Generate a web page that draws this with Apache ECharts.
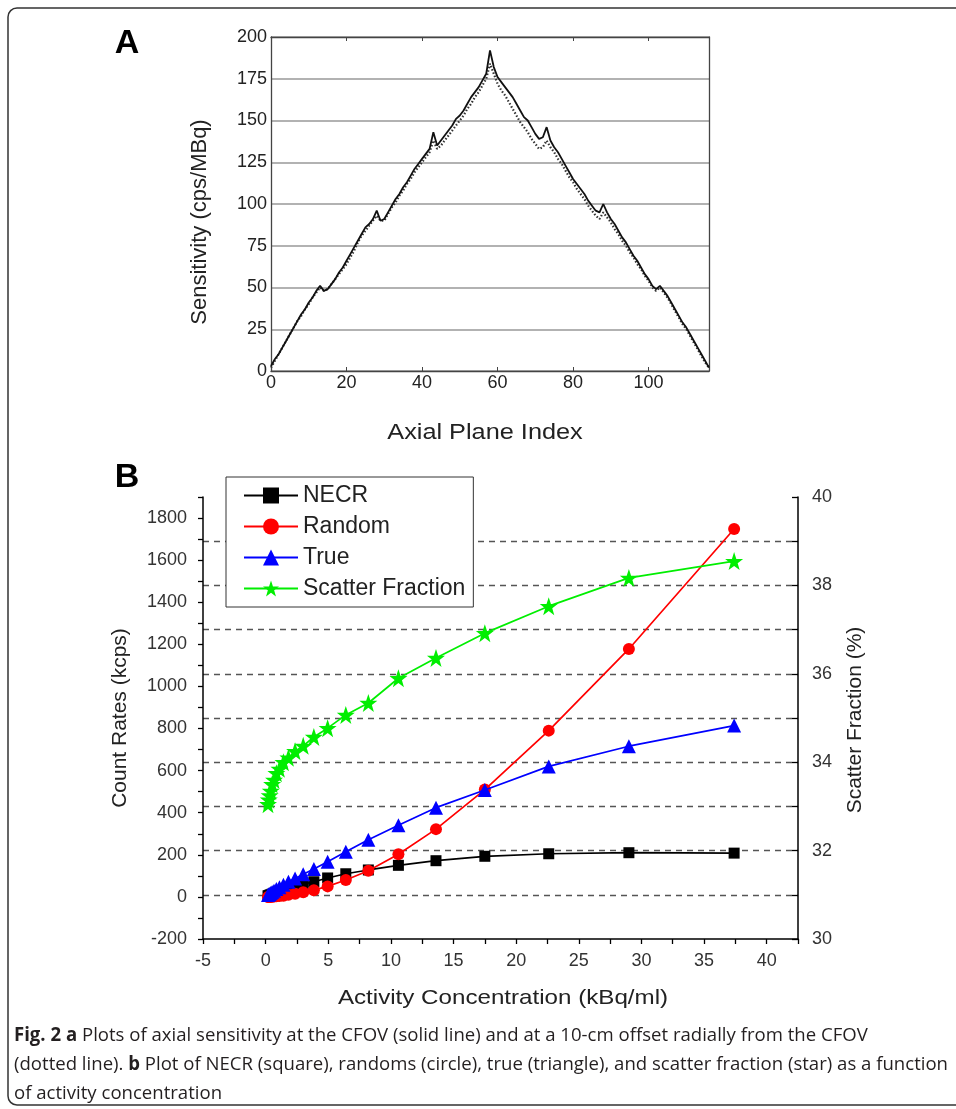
<!DOCTYPE html>
<html>
<head>
<meta charset="utf-8">
<script src="https://cdn.jsdelivr.net/npm/echarts@6/dist/echarts.min.js"></script>
<style>
html,body{margin:0;padding:0;background:#fff;}
#c{width:956px;height:1109px;}
</style>
</head>
<body>
<div id="c"></div>
<script>
// ---------- Panel A data: axial sensitivity (cps/MBq) per plane ----------
const sensitivityCFOV = [
  3,7,10,14,18,22,26,30,34,37,
  41,44,48,51,48,49,52,55,59,62,
  66,70,74,78,82,86,88,91,96,90,
  91,95,99,103,106,110,113,117,121,124,
  127,130,133,143,135,138,141,144,147,151,
  153,156,160,164,167,170,174,178,192,182,
  176,173,170,167,164,160,156,152,150,146,
  142,139,140,146,138,134,131,127,123,119,
  115,112,109,106,102,99,96,95,100,95,
  91,88,84,80,77,73,69,66,62,58,
  55,51,49,51,48,45,41,37,33,29,
  26,22,18,14,10,6,2
];
const sensitivityOffset = [
  2,6,10,14,18,22,26,30,33,37,
  40,44,47,50,48,49,52,55,58,61,
  64,68,72,77,81,84,87,90,93,90,
  90,94,98,101,105,108,112,115,119,122,
  125,128,131,138,133,135,138,141,144,147,
  150,153,157,160,164,167,171,175,184,178,
  172,168,165,161,157,153,149,146,143,139,
  136,133,134,138,134,131,127,124,120,116,
  113,109,106,103,99,96,93,91,95,92,
  89,85,82,78,75,71,68,64,61,57,
  54,50,48,50,47,44,40,36,32,28,
  25,21,17,13,9,5,2
];
const axisA_x = {min: 0, max: 116, interval: 20};
const axisA_y = {min: 0, max: 200, interval: 25};

// ---------- Panel B data ----------
const seriesNames = ['NECR', 'Random', 'True', 'Scatter Fraction'];
const concentration = [0.19,0.25,0.32,0.41,0.52,0.67,0.86,1.1,1.42,1.82,2.35,3.0,3.85,4.95,6.4,8.2,10.6,13.6,17.5,22.6,29.0,37.4];
const necr          = [5,6,8,10,13,17,22,27,34,42,50,60,72,90,110,128,150,172,193,205,210,208];
const randoms       = [0,0,0,1,1,2,3,4,6,10,15,22,32,50,80,124,203,322,510,790,1178,1748];
const trues         = [9,11,14,18,23,29,37,46,58,72,88,108,133,167,214,272,340,424,508,620,716,814];
const scatterFrac   = [33.05,33.15,33.25,33.35,33.5,33.6,33.75,33.85,34.0,34.1,34.25,34.37,34.57,34.77,35.07,35.34,35.9,36.36,36.92,37.53,38.17,38.55];
const axisB_x  = {min: -5, max: 42.5, step: 2.5, labelEvery: 5};
const axisB_yL = {min: -200, max: 1900, step: 100, labelEvery: 200};
const axisB_yR = {min: 30, max: 40, step: 1, labelEvery: 2};

// ---------- Text ----------
const captionLines = [
  [['b','Fig. 2'],['n',' '],['b','a'],['n',' Plots of axial sensitivity at the CFOV (solid line) and at a 10-cm offset radially from the CFOV']],
  [['n','(dotted line). '],['b','b'],['n',' Plot of NECR (square), randoms (circle), true (triangle), and scatter fraction (star) as a function']],
  [['n','of activity concentration']]
];

const FONT = '"Liberation Sans", Arial, Helvetica, sans-serif';
const starPath = 'path://M50,2 L61.5,36 L97,36 L68.5,57.5 L79,92 L50,71 L21,92 L31.5,57.5 L3,36 L38.5,36 Z';

function isMult(v, m) { return Math.abs(v / m - Math.round(v / m)) < 1e-6; }

const planes = sensitivityCFOV.map((_, i) => i);

// caption scale to mimic condensed font
const CAP_FONT = '"Open Sans", "Noto Sans", sans-serif';
const CAP_SIZE = 19;
const mctx = document.createElement('canvas').getContext('2d');
function lineWidth(parts) {
  let w = 0;
  parts.forEach(p => {
    mctx.font = (p[0] === 'b' ? 'bold ' : '') + CAP_SIZE + 'px ' + CAP_FONT;
    w += mctx.measureText(p[1]).width;
  });
  return w;
}
const capScale = 934 / lineWidth(captionLines[1]);
const captionGraphics = captionLines.map((parts, i) => ({
  type: 'text',
  x: 14, y: 1036 + i * 29,
  scaleX: capScale,
  style: {
    text: parts.map(p => p[0] === 'b' ? '{b|' + p[1] + '}' : '{n|' + p[1] + '}').join(''),
    rich: {
      b: {fontFamily: CAP_FONT, fontSize: CAP_SIZE, fontWeight: 'bold', fill: '#231f20'},
      n: {fontFamily: CAP_FONT, fontSize: CAP_SIZE, fill: '#231f20'}
    },
    align: 'left', verticalAlign: 'middle'
  },
  z: 10
}));

function title(text, x, y, rot, size, sx) {
  return {
    type: 'text', x: x, y: y, rotation: rot || 0, scaleX: sx || 1,
    style: {text: text, font: (size || 21) + 'px ' + FONT, fill: '#222', align: 'center', verticalAlign: 'middle'},
    z: 10
  };
}

const chart = echarts.init(document.getElementById('c'), null, {renderer: 'canvas'});

const lineB = (name, ys, color, symbol, size, yIdx, z) => ({
  name: name, type: 'line', xAxisIndex: 2, yAxisIndex: yIdx,
  data: concentration.map((x, i) => [x, ys[i]]),
  symbol: symbol, symbolSize: size,
  lineStyle: {color: color, width: 1.7},
  itemStyle: {color: color},
  emphasis: {disabled: true}, animation: false, z: z
});

const option = {
  animation: false,
  backgroundColor: '#fff',
  grid: [
    {left: 271, top: 37, right: 956 - 709, bottom: 1109 - 371, containLabel: false},
    {left: 203, top: 497, right: 956 - 798, bottom: 1109 - 939, containLabel: false}
  ],
  xAxis: [
    {gridIndex: 0, type: 'value', position: 'bottom', min: axisA_x.min, max: axisA_x.max, interval: axisA_x.interval,
     axisLine: {onZero: false, lineStyle: {color: '#444', width: 1.3}},
     axisTick: {inside: true, length: 4, lineStyle: {color: '#444'}},
     axisLabel: {showMaxLabel: false, fontSize: 18, color: '#222', fontFamily: FONT, margin: 3},
     splitLine: {show: false}},
    {gridIndex: 0, type: 'value', position: 'top', min: axisA_x.min, max: axisA_x.max, interval: axisA_x.interval,
     axisLine: {onZero: false, lineStyle: {color: '#444', width: 1.3}},
     axisTick: {inside: true, length: 4, lineStyle: {color: '#444'}},
     axisLabel: {show: false}, splitLine: {show: false}},
    {gridIndex: 1, type: 'value', position: 'bottom', min: axisB_x.min, max: axisB_x.max, interval: axisB_x.step,
     axisLine: {onZero: false, lineStyle: {color: '#000', width: 1.5}},
     axisTick: {inside: false, length: 5, lineStyle: {color: '#000', width: 1.3}},
     axisLabel: {fontSize: 18, color: '#333', fontFamily: FONT, margin: 13,
       formatter: v => (isMult(v, axisB_x.labelEvery) && v <= 40) ? String(v) : ''},
     splitLine: {show: false}}
  ],
  yAxis: [
    {gridIndex: 0, type: 'value', position: 'left', min: axisA_y.min, max: axisA_y.max, interval: axisA_y.interval,
     axisLine: {show: true, onZero: false, lineStyle: {color: '#444', width: 1.3}},
     axisTick: {show: false},
     axisLabel: {fontSize: 18, color: '#222', fontFamily: FONT, margin: 4},
     splitLine: {show: true, lineStyle: {color: '#999', width: 1.6}}},
    {gridIndex: 0, type: 'value', position: 'right', min: axisA_y.min, max: axisA_y.max, interval: axisA_y.interval,
     axisLine: {show: true, onZero: false, lineStyle: {color: '#444', width: 1.3}},
     axisTick: {show: false}, axisLabel: {show: false}, splitLine: {show: false}},
    {gridIndex: 1, type: 'value', position: 'left', min: axisB_yL.min, max: axisB_yL.max, interval: axisB_yL.step,
     axisLine: {show: true, onZero: false, lineStyle: {color: '#000', width: 1.5}},
     axisTick: {show: true, inside: false, length: 5, lineStyle: {color: '#000', width: 1.3}},
     axisLabel: {fontSize: 18, color: '#333', fontFamily: FONT, margin: 16,
       formatter: v => isMult(v, axisB_yL.labelEvery) ? String(v) : ''},
     splitLine: {show: false}},
    {gridIndex: 1, type: 'value', position: 'right', min: axisB_yR.min, max: axisB_yR.max, interval: axisB_yR.step,
     axisLine: {show: true, onZero: false, lineStyle: {color: '#000', width: 1.5}},
     axisTick: {show: true, inside: true, length: 6, lineStyle: {color: '#000', width: 1.3}},
     axisLabel: {fontSize: 18, color: '#333', fontFamily: FONT, margin: 14,
       formatter: v => isMult(v, axisB_yR.labelEvery) ? String(v) : ''},
     splitLine: {show: true, showMinLine: false, showMaxLine: false,
       lineStyle: {color: '#555', width: 1.3, type: [6, 5]}}}
  ],
  legend: {
    data: seriesNames,
    orient: 'vertical', left: 226, top: 477,
    backgroundColor: '#fff', borderColor: '#333', borderWidth: 1,
    padding: [7, 8, 7, 17],
    itemWidth: 54, itemHeight: 20, itemGap: 8,
    textStyle: {fontSize: 23, color: '#222', fontFamily: FONT},
    selectedMode: false, z: 8
  },
  series: [
    {name: 'CFOV', type: 'line', xAxisIndex: 0, yAxisIndex: 0,
     data: planes.map((p, i) => [p, sensitivityCFOV[i]]),
     showSymbol: false, symbol: 'none', lineStyle: {color: '#111', width: 1.8}, z: 3},
    {name: 'Offset 10 cm', type: 'line', xAxisIndex: 0, yAxisIndex: 0,
     data: planes.map((p, i) => [p, sensitivityOffset[i]]),
     showSymbol: false, symbol: 'none', lineStyle: {color: '#333', width: 2.2, type: [1.5, 2]}, z: 2},
    lineB('NECR', necr, '#000000', 'rect', 11, 2, 3),
    lineB('Random', randoms, '#ff0000', 'circle', 12, 2, 4),
    lineB('True', trues, '#0000ff', 'triangle', 14, 2, 5),
    lineB('Scatter Fraction', scatterFrac, '#00ee00', starPath, 18, 3, 6)
  ],
  graphic: [
    {type: 'rect', shape: {x: 8, y: 8, width: 1000, height: 1097, r: 9},
     style: {fill: 'none', stroke: '#333', lineWidth: 1.5}, z: 0},
    {type: 'text', x: 127, y: 44, style: {text: 'A', font: 'bold 34px ' + FONT, fill: '#000', align: 'center', verticalAlign: 'middle'}, z: 10},
    {type: 'text', x: 127, y: 478, style: {text: 'B', font: 'bold 34px ' + FONT, fill: '#000', align: 'center', verticalAlign: 'middle'}, z: 10},
    title('Sensitivity (cps/MBq)', 200, 222, Math.PI / 2, 22, 1),
    title('Axial Plane Index', 485, 433, 0, 22, 1.15),
    title('Count Rates (kcps)', 120, 718, Math.PI / 2, 21, 1),
    title('Scatter Fraction (%)', 855, 720, Math.PI / 2, 21, 1),
    title('Activity Concentration (kBq/ml)', 503, 998, 0, 21, 1.15)
  ].concat(captionGraphics)
};
chart.setOption(option);
</script>
</body>
</html>
